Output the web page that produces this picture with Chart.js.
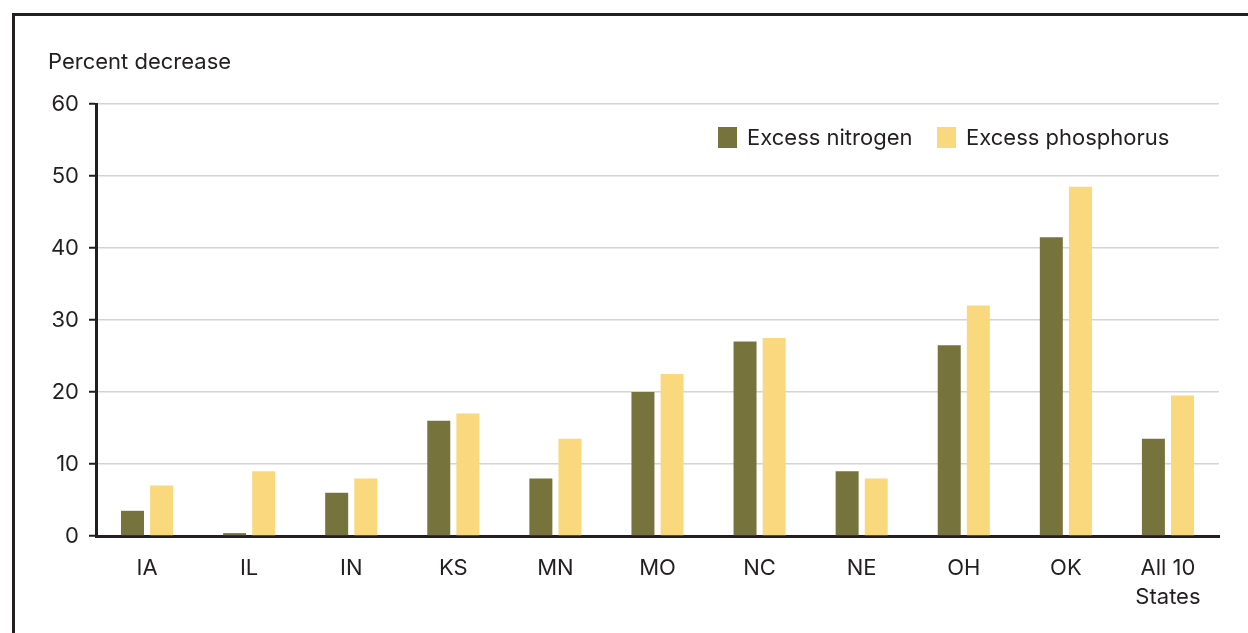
<!DOCTYPE html>
<html>
<head>
<meta charset="utf-8">
<script src="https://cdn.jsdelivr.net/npm/chart.js@4"></script>
<style>
  html, body { margin: 0; padding: 0; background: #fff; overflow: hidden; }
  #frame {
    position: absolute; left: 12px; top: 13px; width: 1300px; height: 700px;
    border-left: 3px solid #231f20; border-top: 3px solid #231f20;
  }
  #wrap { position: absolute; left: 0; top: 0; width: 1248px; height: 633px; }
</style>
</head>
<body>
<div id="frame"></div>
<div id="wrap"><canvas id="nutrientChart"></canvas></div>
<script>
// data
const states = ['IA', 'IL', 'IN', 'KS', 'MN', 'MO', 'NC', 'NE', 'OH', 'OK', ['All 10', 'States']];
const nitrogen = [3.5, 0.4, 6, 16, 8, 20, 27, 9, 26.5, 41.5, 13.5];
const phosphorus = [7, 9, 8, 17, 13.5, 22.5, 27.5, 8, 32, 48.5, 19.5];
const yTicks = [0, 10, 20, 30, 40, 50, 60];

const FONT = 'Inter, "Noto Sans", sans-serif';
const TEXT = '#231f20';

// axis caption + legend drawn inside the plot
const extras = {
    id: 'extras',
    afterDraw(chart) {
        const c = chart.ctx;
        c.save();
        c.fillStyle = TEXT;
        c.font = '22px ' + FONT;
        c.textBaseline = 'middle';
        c.textAlign = 'left';
        c.fillText('Percent decrease', 48, 62);

        const items = [
            { x: 718, ds: chart.data.datasets[0] },
            { x: 937, ds: chart.data.datasets[1] }
        ];
        items.forEach(it => {
            c.fillStyle = it.ds.backgroundColor;
            c.fillRect(it.x, 127, 19, 21);
            c.fillStyle = TEXT;
            c.fillText(it.ds.label, it.x + 29, 138);
        });
        c.restore();
    }
};

const ctx = document.getElementById('nutrientChart');

new Chart(ctx, {
    type: 'bar',
    data: {
        labels: states,
        datasets: [{
            label: 'Excess nitrogen',
            data: nitrogen,
            backgroundColor: '#77733d'
        }, {
            label: 'Excess phosphorus',
            data: phosphorus,
            backgroundColor: '#fad87e'
        }]
    },
    options: {
        responsive: true,
        maintainAspectRatio: false,
        animation: false,
        categoryPercentage: 0.57,
        barPercentage: 0.79,
        layout: { padding: { left: 20, right: 29, top: 104, bottom: 0 } },
        plugins: {
            legend: { display: false },
            tooltip: { enabled: false }
        },
        scales: {
            x: {
                grid: { display: false },
                border: { color: TEXT, width: 3 },
                ticks: {
                    color: TEXT,
                    font: { family: FONT, size: 22, lineHeight: 1.32 },
                    padding: 10,
                    maxRotation: 0
                },
                afterFit(scale) { scale.height = 97; }
            },
            y: {
                min: 0,
                max: 60,
                afterBuildTicks(scale) { scale.ticks = yTicks.map(v => ({ value: v })); },
                grid: { color: '#d4d4d4', lineWidth: 1.5, tickColor: TEXT, tickLength: 7, tickWidth: 2 },
                border: { color: TEXT, width: 3 },
                ticks: {
                    color: TEXT,
                    font: { family: FONT, size: 22 },
                    padding: 10
                },
                afterFit(scale) { scale.width = 76; }
            }
        }
    },
    plugins: [extras]
});
</script>
</body>
</html>
